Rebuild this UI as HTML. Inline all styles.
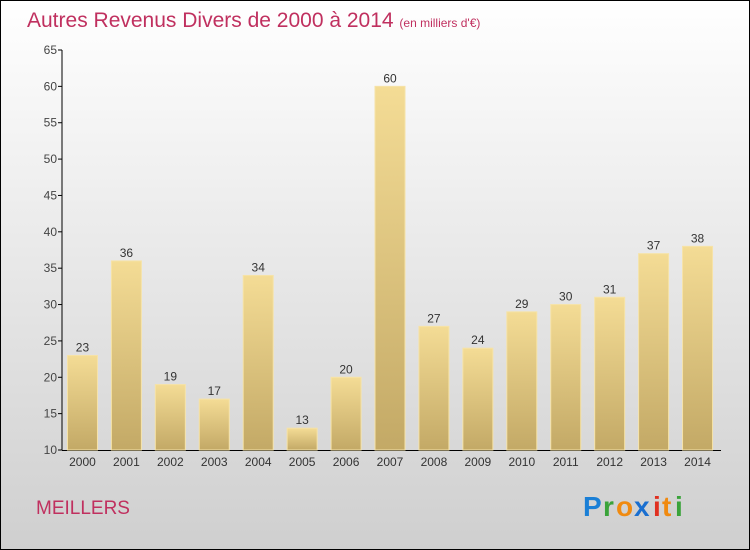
<!DOCTYPE html>
<html><head><meta charset="utf-8"><style>
body{margin:0}
svg{display:block;font-family:"Liberation Sans",sans-serif}
</style></head><body>
<svg width="750" height="550" viewBox="0 0 750 550">
<defs>
<linearGradient id="bg" x1="0" y1="0" x2="0" y2="1"><stop offset="0" stop-color="#ffffff"/><stop offset="1" stop-color="#cfcfcf"/></linearGradient>
<linearGradient id="bar" x1="0" y1="0" x2="0" y2="1"><stop offset="0" stop-color="#f4dc95"/><stop offset="1" stop-color="#c3a966"/></linearGradient>
</defs>
<rect x="0.5" y="0.5" width="749" height="549" fill="url(#bg)" stroke="#000"/>
<text x="27" y="27" font-size="21" fill="#c0305f">Autres Revenus Divers de 2000 à 2014 <tspan font-size="12">(en milliers d'€)</tspan></text>
<g id="axes"></g>
<g id="bars"></g>
<text x="36" y="514" font-size="19" fill="#c0305f">MEILLERS</text>
<g font-size="28" font-weight="bold">
<text x="583" y="516" fill="#1a7fd6">P</text><text x="603" y="516" fill="#3aa33a">r</text><text x="616" y="516" fill="#f08a10">o</text><text x="634" y="516" fill="#1a6fd0">x</text><text x="653" y="516" fill="#e03020">i</text><text x="662" y="516" fill="#f08a10">t</text><text x="675" y="516" fill="#3aa33a">i</text>
</g>
</svg>
<script>
const categories=['2000','2001','2002','2003','2004','2005','2006','2007','2008','2009','2010','2011','2012','2013','2014'];
const values=[23,36,19,17,34,13,20,60,27,24,29,30,31,37,38];
const yTicks=[10,15,20,25,30,35,40,45,50,55,60,65];
const NS='http://www.w3.org/2000/svg';
const x0=62,x1=721,yTop=50,yBot=450,vMin=10,vMax=65;
const band=(x1-x0)/categories.length;
function y(v){return yBot-(v-vMin)/(vMax-vMin)*(yBot-yTop);}
function xc(i){return x0+band*(i+0.5)-1.5;}
function mk(t,a,p){const e=document.createElementNS(NS,t);for(const k in a)e.setAttribute(k,a[k]);p.appendChild(e);return e;}
const ax=document.getElementById('axes'),bg=document.getElementById('bars');
const yl=mk('line',{x1:x0,y1:yTop,x2:x0,y2:yBot,stroke:'#000'},ax);


const xl=mk('line',{x1:x0,y1:yBot+0.5,x2:x1,y2:yBot+0.5,stroke:'#000'},ax);


yTicks.forEach(t=>{
 mk('line',{x1:x0-4,y1:y(t),x2:x0,y2:y(t),stroke:'#000'},ax);
 const tx=mk('text',{x:x0-5,y:y(t)+4,'font-size':12,fill:'#444','text-anchor':'end'},ax);
 tx.textContent=t;
 
 
});
categories.forEach((c,i)=>{
 const cx=xc(i),v=values[i];
 const r=mk('rect',{x:cx-15,y:y(v),width:30,height:yBot-y(v),fill:'url(#bar)',stroke:'#f6e3a8','stroke-width':1},bg);
 
 
 const l=mk('text',{x:cx,y:y(v)-4,'font-size':12,fill:'#333','text-anchor':'middle'},bg);
 l.textContent=v;
 
 
 const t=mk('text',{x:cx,y:466,'font-size':12,fill:'#333','text-anchor':'middle'},ax);
 t.textContent=c;
 
 
});
</script>
</body></html>
